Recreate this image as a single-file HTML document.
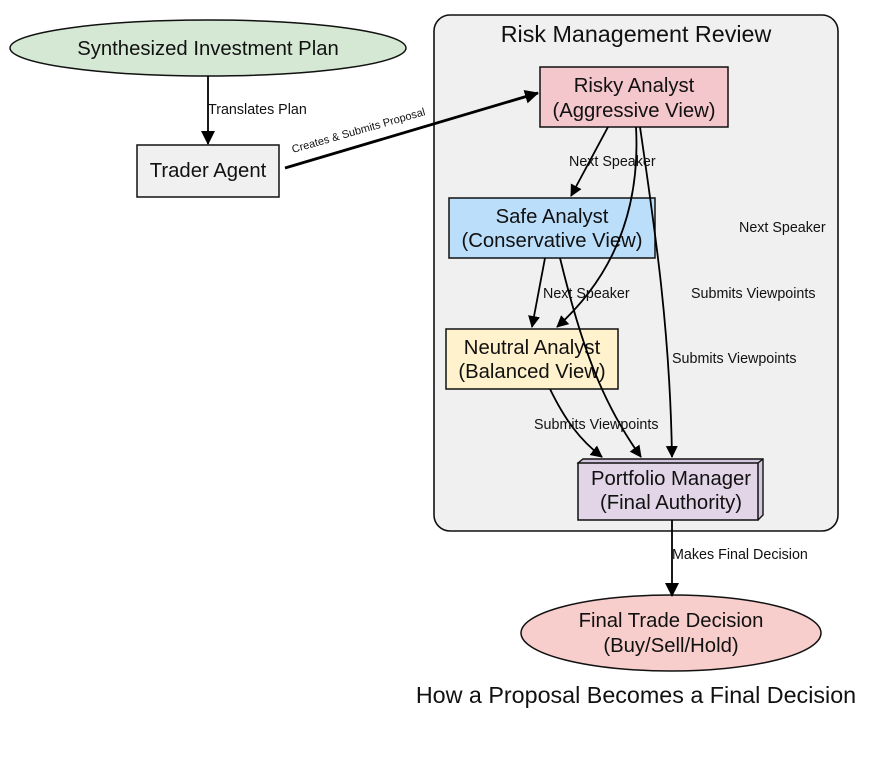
<!DOCTYPE html>
<html><head><meta charset="utf-8"><style>
html,body{margin:0;padding:0;background:#fff;width:875px;height:761px;overflow:hidden}
svg{display:block}
text{font-family:"Liberation Sans",Arial,sans-serif;fill:#111}
</style></head><body>
<svg width="875" height="761" viewBox="0 0 875 761" xmlns="http://www.w3.org/2000/svg">
<defs>
<marker id="a" markerWidth="12" markerHeight="14" refX="11" refY="6" orient="auto" markerUnits="userSpaceOnUse" viewBox="0 0 12 12"><path d="M0,0 L12,6 L0,12 z" fill="#000"/></marker>
<marker id="b" markerWidth="14" markerHeight="14" refX="13" refY="7" orient="auto" markerUnits="userSpaceOnUse" viewBox="0 0 14 14"><path d="M0,0 L14,7 L0,14 z" fill="#000"/></marker>
</defs>
<rect x="434" y="15" width="404" height="516" rx="16" fill="#f0f0f0" stroke="#111" stroke-width="1.6"/>
<text x="636" y="42" font-size="23.3" text-anchor="middle">Risk Management Review</text>

<ellipse cx="208" cy="48" rx="198" ry="28" fill="#d5e8d4" stroke="#111" stroke-width="1.5"/>
<text x="208" y="55" font-size="20.3" text-anchor="middle">Synthesized Investment Plan</text>

<rect x="137" y="145" width="142" height="52" fill="#f0f0f0" stroke="#111" stroke-width="1.5"/>
<text x="208" y="177" font-size="20.3" text-anchor="middle">Trader Agent</text>

<rect x="540" y="67" width="188" height="60" fill="#f4c7cd" stroke="#111" stroke-width="1.5"/>
<text x="634" y="92" font-size="20.3" text-anchor="middle">Risky Analyst</text>
<text x="634" y="117" font-size="20.3" text-anchor="middle">(Aggressive View)</text>

<rect x="449" y="198" width="206" height="60" fill="#bbdefb" stroke="#111" stroke-width="1.5"/>
<text x="552" y="223" font-size="20.3" text-anchor="middle">Safe Analyst</text>
<text x="552" y="247" font-size="20.3" text-anchor="middle">(Conservative View)</text>

<rect x="446" y="329" width="172" height="60" fill="#fff2cc" stroke="#111" stroke-width="1.5"/>
<text x="532" y="354" font-size="20.3" text-anchor="middle">Neutral Analyst</text>
<text x="532" y="378" font-size="20.3" text-anchor="middle">(Balanced View)</text>

<path d="M578,463 L583,459 L763,459 L763,515 L758,520 Z" fill="#d5c6df" stroke="#111" stroke-width="1.4"/>
<rect x="578" y="463" width="180" height="57" fill="#e1d5e7" stroke="#111" stroke-width="1.5"/>
<line x1="758" y1="463" x2="763" y2="459" stroke="#111" stroke-width="1.4"/>
<text x="671" y="485" font-size="20.3" text-anchor="middle">Portfolio Manager</text>
<text x="671" y="509" font-size="20.3" text-anchor="middle">(Final Authority)</text>

<ellipse cx="671" cy="633" rx="150" ry="38" fill="#f8cecc" stroke="#111" stroke-width="1.5"/>
<text x="671" y="627" font-size="20.3" text-anchor="middle">Final Trade Decision</text>
<text x="671" y="652" font-size="20.3" text-anchor="middle">(Buy/Sell/Hold)</text>

<text x="636" y="703" font-size="23.3" text-anchor="middle">How a Proposal Becomes a Final Decision</text>

<g stroke="#000" fill="none" stroke-width="1.8">
<line x1="208" y1="76" x2="208" y2="144" marker-end="url(#b)"/>
<line x1="285" y1="168" x2="538" y2="93" stroke-width="2.8" marker-end="url(#b)"/>
<line x1="608" y1="127" x2="571" y2="196" marker-end="url(#a)"/>
<path d="M636,127 C640,200 620,270 557,327" marker-end="url(#a)"/>
<path d="M640,127 C655,230 670,330 672,457" marker-end="url(#a)"/>
<line x1="545" y1="258" x2="532" y2="327" marker-end="url(#a)"/>
<path d="M560,258 C580,340 600,400 641,457" marker-end="url(#a)"/>
<path d="M550,389 C565,420 580,440 602,457" marker-end="url(#a)"/>
<line x1="672" y1="520" x2="672" y2="596" marker-end="url(#b)"/>
</g>

<g font-size="14.3">
<text x="208" y="114">Translates Plan</text>
<text x="293" y="153" font-size="11" transform="rotate(-16 293 153)">Creates &amp; Submits Proposal</text>
<text x="569" y="166">Next Speaker</text>
<text x="739" y="232">Next Speaker</text>
<text x="543" y="298">Next Speaker</text>
<text x="691" y="298">Submits Viewpoints</text>
<text x="672" y="363">Submits Viewpoints</text>
<text x="534" y="429">Submits Viewpoints</text>
<text x="672" y="559">Makes Final Decision</text>
</g>
</svg>
</body></html>
